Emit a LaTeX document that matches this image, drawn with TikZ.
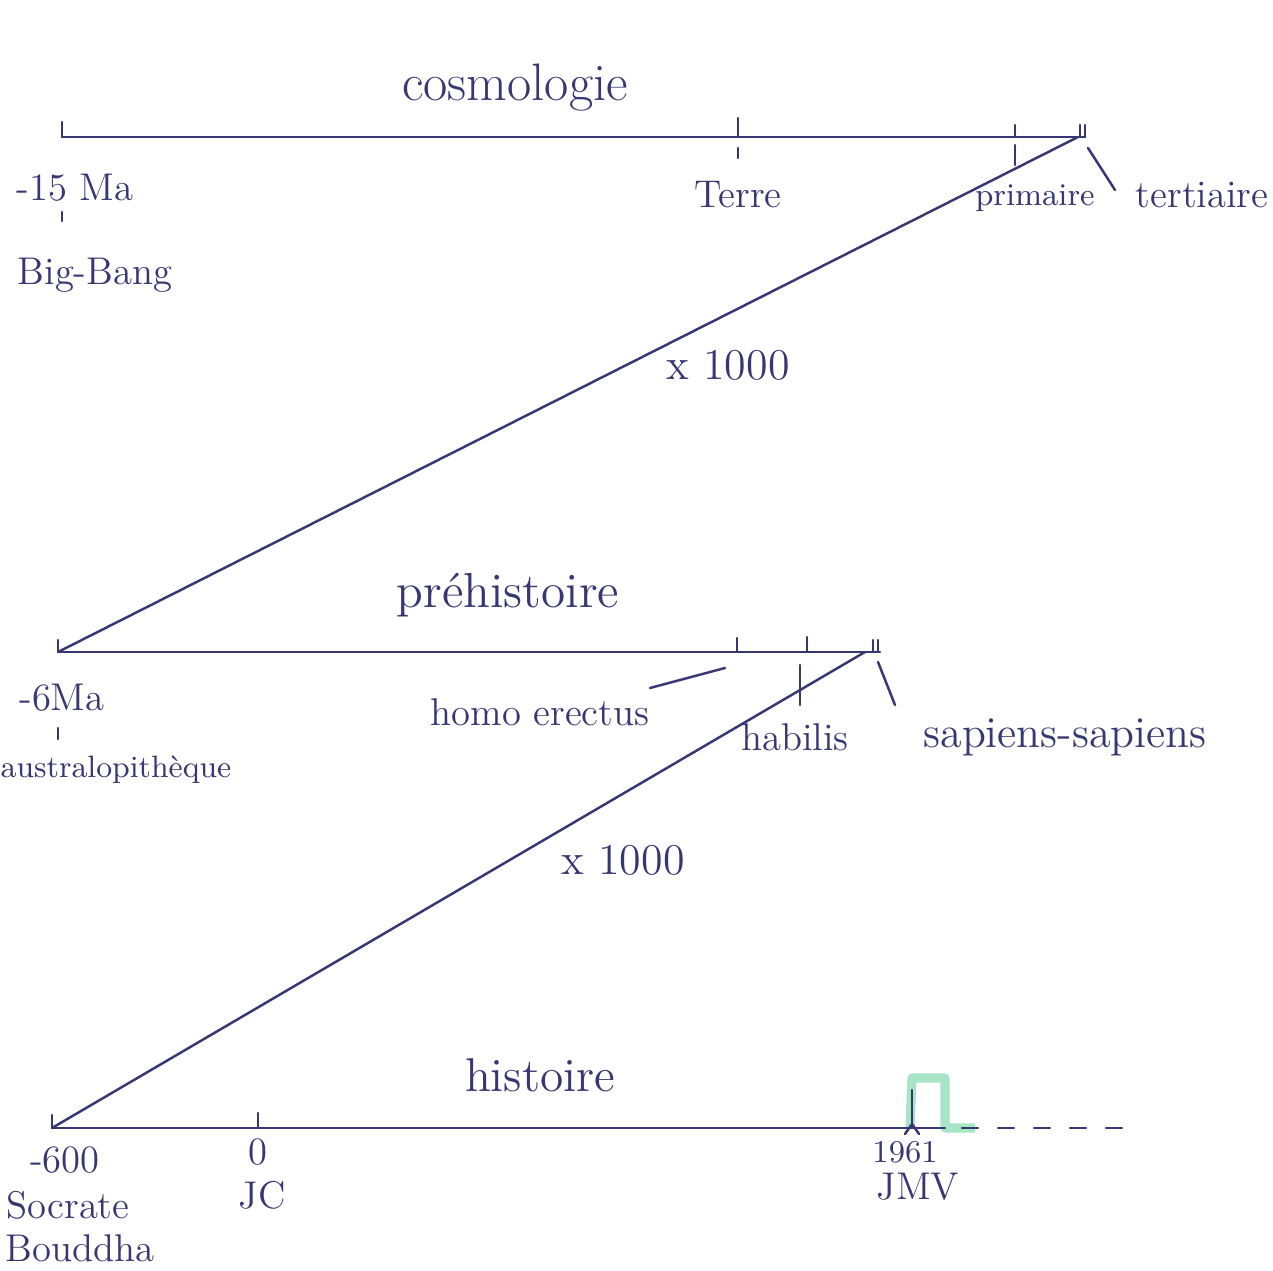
\documentclass[tikz,border=0pt]{standalone}
\usepackage{fontspec}
\definecolor{ink}{RGB}{55,55,115}
\definecolor{hl}{RGB}{110,210,160}
\tikzset{
  ln/.style={draw=ink, line width=0.7pt, line cap=round},
  lbl/.style={text=ink, inner sep=1pt, font=\fontsize{11}{13}\selectfont},
  big/.style={text=ink, inner sep=1pt, font=\fontsize{15}{18}\selectfont},
  sml/.style={text=ink, inner sep=1pt, font=\fontsize{9}{11}\selectfont}
}
\begin{document}
\begin{tikzpicture}
\useasboundingbox[fill=white] (0,0) rectangle (12.73,12.70);
% ---------- cosmologie ----------
\coordinate (cA) at (0.62,11.33);
\coordinate (cB) at (10.85,11.33);
\coordinate (cZ) at (10.78,11.33);
\draw[ln] (cA) -- (cB);
\draw[ln] (cA) -- ++(0,0.15);
\draw[ln] (7.38,11.33) -- ++(0,0.19);
\draw[ln] (7.38,11.22) -- ++(0,-0.10);
\draw[ln] (10.15,11.33) -- ++(0,0.12);
\draw[ln] (10.15,11.25) -- ++(0,-0.20);
\draw[ln] (10.80,11.33) -- ++(0,0.12);
\draw[ln] (10.85,11.33) -- ++(0,0.12);
\node[big] (tcos) at (5.15,11.82) {cosmologie};
\node[lbl] (t15) at (0.75,10.82) {-15 Ma};
\draw[ln] (0.62,10.58) -- (0.62,10.49);
\node[lbl] (tbb) at (0.95,9.95) {Big-Bang};
\node[lbl] (tterre) at (7.38,10.75) {Terre};
\node[sml] (tprim) at (10.35,10.72) {primaire};
\node[lbl] (tter) at (12.02,10.75) {tertiaire};
\coordinate (pt1) at (10.88,11.22);
\coordinate (pt2) at (11.15,10.80);
\draw[ln] (pt1) -- (pt2);
\node[lbl, font=\fontsize{12.5}{15}\selectfont] (x1) at (7.28,9.05) {x 1000};
% ---------- préhistoire ----------
\coordinate (pA) at (0.58,6.18);
\coordinate (pB) at (8.80,6.18);
\coordinate (pZ) at (8.65,6.18);
\draw[ln] (cZ) -- (pA);
\draw[ln] (pA) -- (pB);
\draw[ln] (pA) -- ++(0,0.12);
\draw[ln] (7.37,6.18) -- ++(0,0.14);
\draw[ln] (8.07,6.18) -- ++(0,0.15);
\draw[ln] (8.73,6.18) -- ++(0,0.12);
\draw[ln] (8.78,6.18) -- ++(0,0.12);
\draw[ln] (8.00,6.05) -- (8.00,5.65);
\node[big, font=\fontsize{14}{17}\selectfont] (tpre) at (5.08,6.75) {préhistoire};
\node[lbl] (t6) at (0.62,5.72) {-6Ma};
\draw[ln] (0.58,5.42) -- (0.58,5.31);
\node[lbl, font=\fontsize{8.8}{11}\selectfont] (taus) at (1.16,5.00) {australopithèque};
\node[lbl] (thomo) at (5.40,5.58) {homo erectus};
\coordinate (ph1) at (6.50,5.82);
\coordinate (ph2) at (7.25,6.02);
\draw[ln] (ph1) -- (ph2);
\node[lbl] (thab) at (7.95,5.33) {habilis};
\node[lbl, font=\fontsize{12.5}{15}\selectfont] (tsap) at (10.65,5.33) {sapiens-sapiens};
\coordinate (ps1) at (8.78,6.08);
\coordinate (ps2) at (8.95,5.65);
\draw[ln] (ps1) -- (ps2);
\node[lbl, font=\fontsize{12.5}{15}\selectfont] (x2) at (6.23,4.10) {x 1000};
% ---------- histoire ----------
\coordinate (hA) at (0.52,1.42);
\coordinate (hB) at (9.45,1.42);
\draw[ln] (pZ) -- (hA);
\draw[hl, opacity=0.6, line width=2.6pt, line join=round] (9.10,1.42) -- (9.12,1.92) -- (9.45,1.92) -- (9.45,1.42) -- (9.75,1.42);
\draw[ln] (hA) -- (hB);
\draw[ln, dash pattern=on 0.16cm off 0.2cm] (9.62,1.42) -- (11.25,1.42);
\draw[ln] (hA) -- ++(0,0.13);
\draw[ln] (2.58,1.42) -- ++(0,0.15);
\draw[ln] (9.12,1.42) -- ++(0,0.38);
\draw[ln] (9.05,1.36) -- (9.12,1.46) -- (9.19,1.36);
\node[lbl, font=\fontsize{13.5}{16}\selectfont] (thist) at (5.40,1.95) {histoire};
\node[lbl] (t600) at (0.65,1.10) {-600};
\node[lbl] (tsoc) at (0.68,0.65) {Socrate};
\node[lbl] (tbou) at (0.80,0.22) {Bouddha};
\node[lbl] (t0) at (2.58,1.18) {0};
\node[lbl] (tjc) at (2.62,0.75) {JC};
\node[sml] (t1961) at (9.05,1.18) {1961};
\node[lbl] (tjmv) at (9.18,0.83) {JMV};
\end{tikzpicture}
\end{document}
